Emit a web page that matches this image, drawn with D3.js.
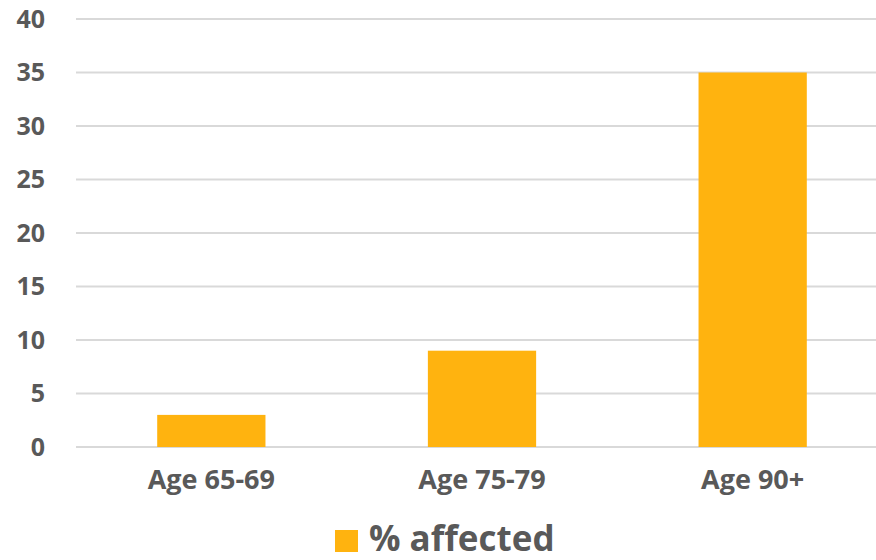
<!DOCTYPE html>
<html><head><meta charset="utf-8">
<script src="https://cdn.jsdelivr.net/npm/d3@7"></script>
<style>body{margin:0;background:#fff}</style>
</head><body>
<svg id="c" width="876" height="560"></svg>
<script>
const categories = ["Age 65-69", "Age 75-79", "Age 90+"];
const values = [3, 9, 35];
const yTicks = [0, 5, 10, 15, 20, 25, 30, 35, 40];
const seriesName = "% affected";

const svg = d3.select("#c");
const font = "'Open Sans', Lato, sans-serif";
const textColor = "#595959";
const y = d3.scaleLinear().domain([0, 40]).range([447, 19]);
const x = d3.scaleBand().domain(categories).range([76, 888]).paddingInner(0.6).paddingOuter(0.3);

// gridlines
svg.append("g").selectAll("line").data(yTicks).join("line")
  .attr("x1", 76).attr("x2", 876)
  .attr("y1", d => y(d)).attr("y2", d => y(d))
  .attr("stroke", "#d9d9d9").attr("stroke-width", 2);

// y axis labels
const yAxis = d3.axisLeft(y).tickValues(yTicks).tickSize(0).tickPadding(31);
const ya = svg.append("g").attr("transform", "translate(76,0)").call(yAxis);
ya.select(".domain").remove();
ya.selectAll("text").attr("font-family", font).attr("font-weight", "bold")
  .attr("font-size", 25).attr("fill", textColor);

// bars
svg.append("g").selectAll("rect").data(values).join("rect")
  .attr("x", (d, i) => x(categories[i]))
  .attr("width", x.bandwidth())
  .attr("y", d => y(d))
  .attr("height", d => y(0) - y(d))
  .attr("fill", "#FFB30F");

// x axis labels
const xAxis = d3.axisBottom(x).tickSize(0).tickPadding(23);
const xa = svg.append("g").attr("transform", "translate(0,447)").call(xAxis);
xa.select(".domain").remove();
xa.selectAll("text").attr("font-family", font).attr("font-weight", "bold")
  .attr("font-size", 27).attr("fill", textColor);

// legend
const lg = svg.append("g");
lg.append("rect").attr("x", 335).attr("y", 530).attr("width", 23).attr("height", 22).attr("fill", "#FFB30F");
lg.append("text").attr("x", 369).attr("y", 551).text(seriesName)
  .attr("font-family", font).attr("font-weight", "bold").attr("font-size", 35).attr("fill", textColor);
</script>
</body></html>
